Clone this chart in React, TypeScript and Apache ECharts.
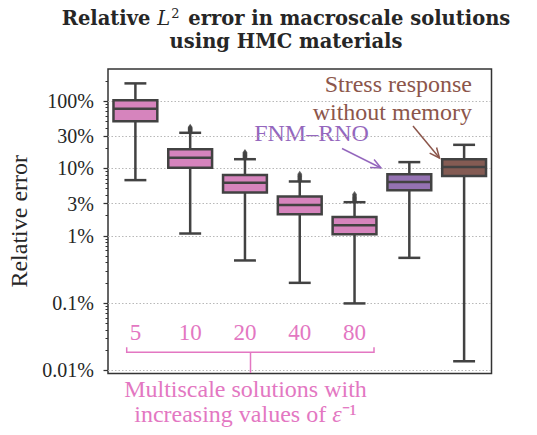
import React, { useEffect, useRef } from 'react';
import * as echarts from 'echarts';

// Box statistics (relative error, in percent) for each solution type.
const scaleLabels = ['5', '10', '20', '40', '80', '', ''];
const whiskerLow = [6.7, 1.08, 0.43, 0.2, 0.099, 0.47, 0.0137];
const quartile1 = [50, 10.2, 4.4, 2.09, 1.05, 4.75, 7.7];
const medians = [77, 14.4, 6.1, 2.87, 1.43, 6.3, 10.5];
const quartile3 = [103, 19.3, 8.0, 3.83, 1.9, 8.2, 13.7];
const whiskerHigh = [183, 33.8, 13.7, 6.4, 3.15, 12.4, 22.4];

// Fliers above the upper whiskers.
const outlierGroup = [
  1, 1, 1, 1, 1, 1, 1,
  2, 2, 2, 2, 2, 2, 2,
  3, 3, 3, 3, 3, 3,
  4, 4, 4, 4, 4, 4,
];
const outlierValue = [
  34.5, 35.5, 36.5, 37.5, 38.5, 39.5, 41,
  14.1, 14.6, 15.1, 15.6, 16.1, 16.7, 17.3,
  6.6, 6.9, 7.2, 7.5, 7.8, 8.2,
  3.25, 3.4, 3.55, 3.7, 3.9, 4.1,
];

// Labelled ticks on the logarithmic error axis (percent).
const tickPercents = [0.01, 0.1, 1, 3, 10, 30, 100];

const boxColors = ['#d684bd', '#d684bd', '#d684bd', '#d684bd', '#d684bd', '#9472b2', '#845b53'];

const lg = (p: number) => Math.log10(p);

export default function App() {
  const ref = useRef<HTMLDivElement>(null);

  useEffect(() => {
    const el = ref.current;
    if (!el) return;
    const chart = echarts.init(el, undefined, { renderer: 'svg' });

    const serif = 'Liberation Serif';
    const ink = '#262626';
    const lineGray = '#424242';
    const pink = '#e377c2';
    const purple = '#9467bd';
    const brown = '#8c564b';

    const yMin = -2.045;
    const yMax = 2.476;

    const majorTicks = tickPercents.map(lg);
    const minorTicks: number[] = [];
    for (let e = -2; e <= 2; e++) {
      for (let m = 2; m <= 9; m++) {
        const v = lg(m * Math.pow(10, e));
        if (v < yMax) minorTicks.push(v);
      }
    }

    const boxData = scaleLabels.map((_, i) => [
      i,
      lg(whiskerLow[i]),
      lg(quartile1[i]),
      lg(medians[i]),
      lg(quartile3[i]),
      lg(whiskerHigh[i]),
    ]);
    const outliers = outlierGroup.map((g, i) => [g, lg(outlierValue[i])]);

    const renderBox = (params: any, api: any) => {
      const x = api.value(0);
      const low = api.coord([x, api.value(1)]);
      const q1 = api.coord([x, api.value(2)]);
      const med = api.coord([x, api.value(3)]);
      const q3 = api.coord([x, api.value(4)]);
      const high = api.coord([x, api.value(5)]);
      const band = api.size([1, 0])[0];
      const bw = band * 0.8;
      const cx = low[0];
      const stroke = { stroke: lineGray, lineWidth: 2.5 };
      return {
        type: 'group',
        children: [
          { type: 'line', shape: { x1: cx, y1: low[1], x2: cx, y2: q1[1] }, style: stroke },
          { type: 'line', shape: { x1: cx, y1: q3[1], x2: cx, y2: high[1] }, style: stroke },
          { type: 'line', shape: { x1: cx - bw / 4, y1: low[1], x2: cx + bw / 4, y2: low[1] }, style: stroke },
          { type: 'line', shape: { x1: cx - bw / 4, y1: high[1], x2: cx + bw / 4, y2: high[1] }, style: stroke },
          {
            type: 'rect',
            shape: { x: cx - bw / 2, y: q3[1], width: bw, height: q1[1] - q3[1] },
            style: { fill: boxColors[params.dataIndex], stroke: lineGray, lineWidth: 2.5 },
          },
          { type: 'line', shape: { x1: cx - bw / 2, y1: med[1], x2: cx + bw / 2, y2: med[1] }, style: stroke },
        ],
      };
    };

    const arrow = (x1: number, y1: number, x2: number, y2: number, color: string) => {
      const ang = Math.atan2(y2 - y1, x2 - x1);
      const len = 10;
      const half = 4.5;
      const bx = x2 - len * Math.cos(ang);
      const by = y2 - len * Math.sin(ang);
      const px = -Math.sin(ang) * half;
      const py = Math.cos(ang) * half;
      return [
        { type: 'line', shape: { x1, y1, x2, y2 }, style: { stroke: color, lineWidth: 1.5 } },
        {
          type: 'polyline',
          shape: { points: [[bx + px, by + py], [x2, y2], [bx - px, by - py]] },
          style: { stroke: color, lineWidth: 1.5, fill: 'none' },
        },
      ];
    };

    const option: any = {
      animation: false,
      backgroundColor: '#ffffff',
      grid: {
        left: 108,
        top: 69,
        width: 383.5,
        height: 304.5,
        show: true,
        borderColor: '#333333',
        borderWidth: 1.5,
        outerBoundsMode: 'none',
        containLabel: false,
      },
      xAxis: {
        type: 'category',
        data: scaleLabels,
        axisLine: { show: false },
        axisTick: { show: false },
        splitLine: { show: false },
        axisLabel: {
          inside: true,
          interval: 0,
          margin: 30,
          color: pink,
          fontFamily: serif,
          fontSize: 23,
        },
      },
      yAxis: [
        {
          type: 'value',
          min: yMin,
          max: yMax,
          name: 'Relative error',
          nameLocation: 'middle',
          nameGap: 74,
          nameTextStyle: { fontFamily: serif, fontSize: 24, color: ink },
          axisLine: { show: false },
          axisTick: {
            show: true,
            customValues: majorTicks,
            length: 4.5,
            lineStyle: { color: '#333333', width: 1.25 },
          },
          axisLabel: {
            customValues: majorTicks,
            margin: 14,
            color: ink,
            fontFamily: serif,
            fontSize: 20,
            formatter: (v: number) => {
              const p = Math.pow(10, v);
              return (p < 1 ? p.toPrecision(1) : String(Math.round(p))) + '%';
            },
          },
          splitLine: {
            show: true,
            lineStyle: { color: '#b8b8b8', type: [1.5, 2], width: 1 },
          },
        },
        {
          type: 'value',
          min: yMin,
          max: yMax,
          position: 'left',
          axisLine: { show: false },
          axisLabel: { show: false },
          splitLine: { show: false },
          axisTick: {
            show: true,
            customValues: minorTicks,
            length: 2.5,
            lineStyle: { color: '#333333', width: 1 },
          },
        },
      ],
      series: [
        {
          type: 'custom',
          renderItem: renderBox,
          data: boxData,
          encode: { x: 0, y: [1, 2, 3, 4, 5] },
          z: 3,
        },
        {
          type: 'scatter',
          data: outliers,
          symbol: 'diamond',
          symbolSize: [5, 7],
          itemStyle: { color: lineGray },
          z: 4,
        },
      ],
      graphic: [
        {
          type: 'text',
          x: 286,
          y: 30.3,
          style: {
            text: 'Relative {m|L}{s|2} error in macroscale solutions\nusing HMC materials',
            fontFamily: 'DejaVu Serif',
            fontWeight: 'bold',
            fontSize: 19.5,
            fill: ink,
            align: 'center',
            verticalAlign: 'middle',
            lineHeight: 23,
            rich: {
              m: { fontFamily: 'DejaVu Serif', fontStyle: 'italic', fontWeight: 'normal', fontSize: 19.5, fill: ink },
              s: {
                fontFamily: 'DejaVu Serif',
                fontWeight: 'normal',
                fontSize: 13,
                fill: ink,
                verticalAlign: 'top',
                lineHeight: 23,
                padding: [0, 2, 0, 1],
              },
            },
          },
        },
        {
          type: 'text',
          x: 472,
          y: 98,
          style: {
            text: 'Stress response\nwithout memory',
            fontFamily: serif,
            fontSize: 24,
            fill: brown,
            align: 'right',
            verticalAlign: 'middle',
            lineHeight: 27.5,
          },
        },
        {
          type: 'text',
          x: 311.5,
          y: 133,
          style: {
            text: 'FNM–RNO',
            fontFamily: serif,
            fontSize: 24,
            fill: purple,
            align: 'center',
            verticalAlign: 'middle',
          },
        },
        ...arrow(342, 148.5, 381, 168, purple),
        ...arrow(413, 126, 439.5, 158, brown),
        {
          type: 'polyline',
          shape: { points: [[126.7, 347.3], [126.7, 352.3], [374, 352.3], [374, 347.3]] },
          style: { stroke: pink, lineWidth: 1.5, fill: 'none' },
        },
        {
          type: 'line',
          shape: { x1: 250.5, y1: 352.3, x2: 250.5, y2: 373 },
          style: { stroke: pink, lineWidth: 1.5 },
        },
        {
          type: 'text',
          x: 245.5,
          y: 401.5,
          style: {
            text: 'Multiscale solutions with\nincreasing values of {e|ε}⁻¹',
            fontFamily: serif,
            fontSize: 24,
            fill: pink,
            align: 'center',
            verticalAlign: 'middle',
            lineHeight: 25,
            rich: {
              e: { fontFamily: serif, fontStyle: 'italic', fontSize: 24, fill: pink },
            },
          },
        },
      ],
    };

    chart.setOption(option);
    return () => chart.dispose();
  }, []);

  return (
    <div
      ref={ref}
      style={{ position: 'fixed', left: 0, top: 0, width: 537, height: 435, background: '#fff' }}
    />
  );
}
